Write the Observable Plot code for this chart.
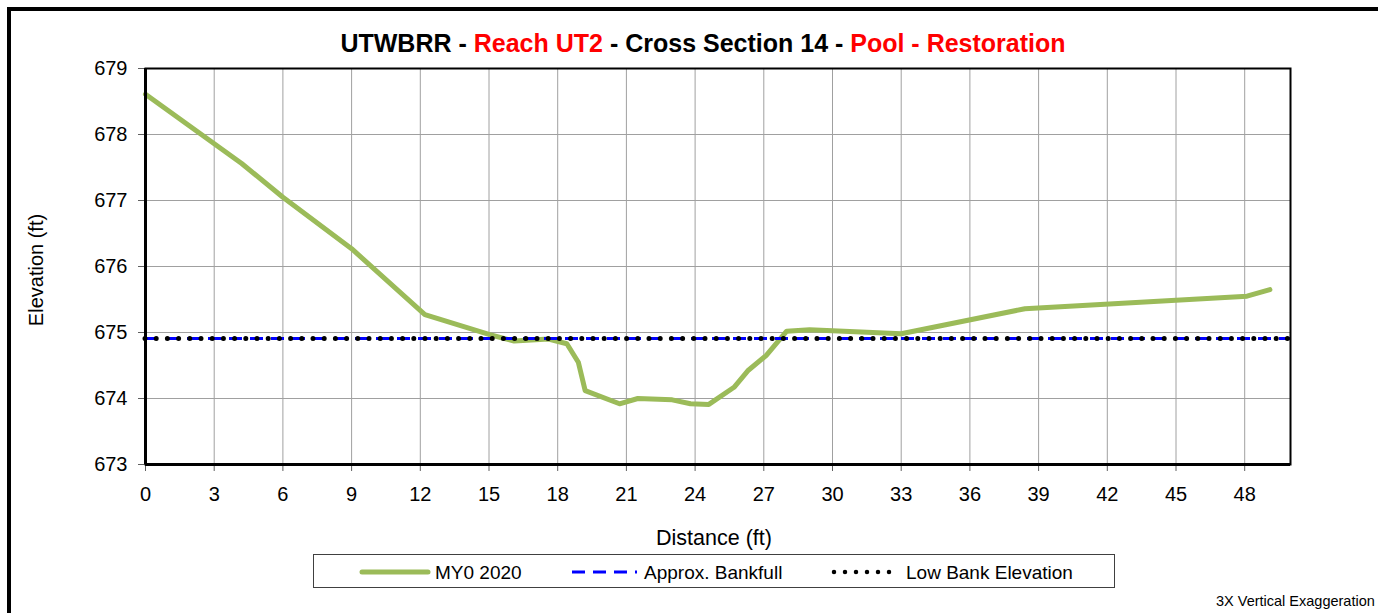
<!DOCTYPE html>
<html>
<head>
<meta charset="utf-8">
<script src="https://cdn.jsdelivr.net/npm/d3@7"></script>
<script src="https://cdn.jsdelivr.net/npm/@observablehq/plot@0.6"></script>
<style>
  html, body { margin:0; padding:0; background:#fff; }
  body { width:1378px; height:613px; overflow:hidden; position:relative; font-family:"Liberation Sans", Arial, sans-serif; color:#000; }
  .abs { position:absolute; white-space:nowrap; line-height:1; }
  .red { color:#ff0000; }
  #chart svg text { font-size:20px; }
</style>
</head>
<body>
<div class="abs" style="left:7px; top:7px; width:1420px; height:660px; border:4px solid #000; box-sizing:border-box;"></div>
<div id="chart" class="abs" style="left:0; top:0;"></div>
<div class="abs" id="title" style="left:703px; top:31px; transform:translateX(-50%); font-weight:bold; font-size:25px;">UTWBRR - <span class="red">Reach UT2</span> - Cross Section 14 - <span class="red">Pool - Restoration</span></div>
<div class="abs" style="left:36px; top:270px; transform:translate(-50%,-50%) rotate(-90deg); font-size:20px;">Elevation (ft)</div>
<div class="abs" style="left:714px; top:528px; transform:translateX(-50%); font-size:21.5px;">Distance (ft)</div>
<div id="legend" class="abs" style="left:313px; top:554px; width:802px; height:34px; border:1px solid #404040; box-sizing:border-box;"></div>
<div class="abs" style="left:1216px; top:594px; font-size:14.5px;">3X Vertical Exaggeration</div>
<script>
// ---- data ----
const distance  = [0, 4.2, 6, 9, 12.2, 15.0, 16.1, 17.6, 18.4, 18.9, 19.2, 20.7, 21.5, 23.0, 23.8, 24.6, 25.7, 26.3, 27.1, 28.0, 29.0, 33.0, 38.4, 48.1, 49.1];
const elevation = [678.61, 677.56, 677.05, 676.27, 675.27, 674.97, 674.87, 674.90, 674.83, 674.55, 674.12, 673.92, 674.00, 673.98, 673.92, 673.91, 674.17, 674.42, 674.65, 675.02, 675.04, 674.98, 675.36, 675.55, 675.65];
const bankfull = 674.91;
const lowBank = 674.91;
const xTicks = [0, 3, 6, 9, 12, 15, 18, 21, 24, 27, 30, 33, 36, 39, 42, 45, 48];
const yTicks = [673, 674, 675, 676, 677, 678, 679];
const seriesNames = ["MY0 2020", "Approx. Bankfull", "Low Bank Elevation"];
const seriesColors = ["#9BBB59", "#0000FF", "#000000"];

const profile = distance.map((d, i) => ({d, e: elevation[i]}));

const chart = Plot.plot({
  width: 1378,
  height: 520,
  marginLeft: 145,
  marginRight: 88,
  marginTop: 68,
  marginBottom: 56,
  style: {fontFamily: '"Liberation Sans", Arial, sans-serif', fontSize: "20px", color: "#000", background: "transparent", overflow: "visible"},
  x: {domain: [0, 50]},
  y: {domain: [673, 679]},
  marks: [
    Plot.gridX(xTicks, {stroke: "#a0a0a0", strokeOpacity: 1, strokeWidth: 1}),
    Plot.gridY(yTicks, {stroke: "#a0a0a0", strokeOpacity: 1, strokeWidth: 1}),
    Plot.axisX({ticks: xTicks, tickSize: 7, tickPadding: 15, tickFormat: d3.format("d"), label: null, stroke: "#606060", fill: "#000"}),
    Plot.axisY({ticks: yTicks, tickSize: 7, tickPadding: 11, tickFormat: d3.format("d"), label: null, stroke: "#606060", fill: "#000"}),
    Plot.line(profile, {x: "d", y: "e", stroke: seriesColors[0], strokeWidth: 5, strokeLinejoin: "round"}),
    Plot.ruleY([bankfull], {stroke: seriesColors[1], strokeWidth: 3, strokeDasharray: "13,8"}),
    Plot.ruleY([lowBank], {stroke: seriesColors[2], strokeWidth: 5, strokeDasharray: "0,11.2", strokeLinecap: "round"}),
    Plot.frame({stroke: "#000", strokeWidth: 2}),
    Plot.ruleX([0], {stroke: "#000", strokeWidth: 3}),
    Plot.ruleY([673], {stroke: "#000", strokeWidth: 3})
  ]
});
document.getElementById("chart").appendChild(chart);

// ---- legend ----
const legend = document.getElementById("legend");
const items = [
  {x1: 49, x2: 115, tx: 121, dash: null, w: 5, cap: "round"},
  {x1: 259, x2: 324, tx: 330, dash: "13,8", w: 3, cap: "butt"},
  {x1: 521, x2: 580, tx: 592, dash: "0,11", w: 4.5, cap: "round"}
];
items.forEach((it, i) => {
  const ns = "http://www.w3.org/2000/svg";
  const svg = document.createElementNS(ns, "svg");
  svg.setAttribute("width", 802); svg.setAttribute("height", 32);
  svg.style.position = "absolute"; svg.style.left = "-1px"; svg.style.top = "0px"; svg.style.overflow = "visible";
  const ln = document.createElementNS(ns, "line");
  ln.setAttribute("x1", it.x1); ln.setAttribute("x2", it.x2);
  ln.setAttribute("y1", 17); ln.setAttribute("y2", 17);
  ln.setAttribute("stroke", seriesColors[i]);
  ln.setAttribute("stroke-width", it.w);
  ln.setAttribute("stroke-linecap", it.cap);
  if (it.dash) ln.setAttribute("stroke-dasharray", it.dash);
  svg.appendChild(ln);
  legend.appendChild(svg);
  const t = document.createElement("div");
  t.className = "abs";
  t.style.left = it.tx + "px"; t.style.top = "8px"; t.style.fontSize = "19px";
  t.textContent = seriesNames[i];
  legend.appendChild(t);
});
</script>
</body>
</html>
